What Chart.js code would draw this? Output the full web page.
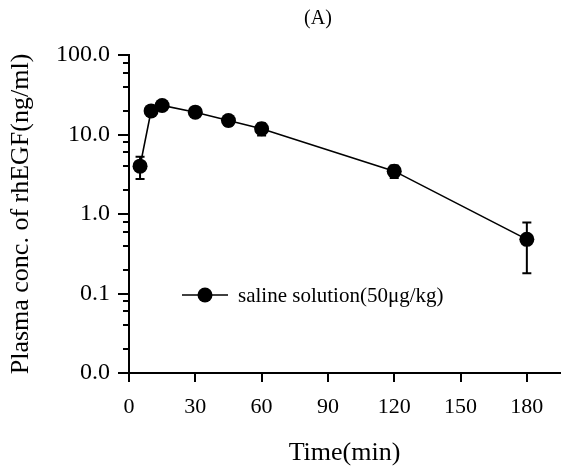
<!DOCTYPE html>
<html>
<head>
<meta charset="utf-8">
<script src="https://cdn.jsdelivr.net/npm/chart.js@4"></script>
<style>
  body { margin: 0; background: #fff; }
  #wrap { width: 568px; height: 469px; }
</style>
</head>
<body>
<div id="wrap"><canvas id="pkChart" width="568" height="469"></canvas></div>
<script>
// values
const times = [5, 10, 15, 30, 45, 60, 120, 180];
const conc = [4.0, 19.8, 23.2, 19.1, 15.0, 11.8, 3.46, 0.48];
const concErr = [1.24, 2.0, 2.5, 2.0, 2.0, 2.1, 0.62, 0.30];
const xTicks = [0, 30, 60, 90, 120, 150, 180];
const yMajorTicks = [0.01, 0.1, 1, 10, 100];
const yMinorSteps = [2, 4, 6, 8];
const seriesLabel = 'saline solution(50\u03bcg/kg)';

const FONT = "'Liberation Serif', 'Times New Roman', serif";

// minor ticks: 2,4,6,8 x each decade
const yTicks = [];
yMajorTicks.forEach((d, i) => {
  yTicks.push({ value: d, major: true });
  if (i < yMajorTicks.length - 1) {
    yMinorSteps.forEach(m => yTicks.push({ value: +(d * m).toPrecision(3), major: false }));
  }
});

// error bars behind the markers
const errorBars = {
  id: 'errorBars',
  beforeDatasetsDraw(chart) {
    const { ctx, scales: { x, y } } = chart;
    ctx.save();
    ctx.strokeStyle = '#000';
    ctx.lineWidth = 2;
    times.forEach((t, i) => {
      const px = x.getPixelForValue(t);
      const top = y.getPixelForValue(conc[i] + concErr[i]);
      const bot = y.getPixelForValue(Math.max(conc[i] - concErr[i], 0.011));
      ctx.beginPath();
      ctx.moveTo(px, top); ctx.lineTo(px, bot);
      ctx.moveTo(px - 4.5, top); ctx.lineTo(px + 4.5, top);
      ctx.moveTo(px - 4.5, bot); ctx.lineTo(px + 4.5, bot);
      ctx.stroke();
    });
    ctx.restore();
  }
};

// outward tick marks, long for decades and short for minors
const axisTicks = {
  id: 'axisTicks',
  afterDraw(chart) {
    const { ctx, chartArea, scales: { x, y } } = chart;
    ctx.save();
    ctx.strokeStyle = '#000';
    ctx.lineWidth = 2;
    y.ticks.forEach(t => {
      const py = Math.round(y.getPixelForValue(t.value));
      const len = yMajorTicks.includes(t.value) ? 11 : 6;
      ctx.beginPath();
      ctx.moveTo(chartArea.left, py);
      ctx.lineTo(chartArea.left - len, py);
      ctx.stroke();
    });
    x.ticks.forEach(t => {
      const px = Math.round(x.getPixelForValue(t.value));
      ctx.beginPath();
      ctx.moveTo(px, chartArea.bottom);
      ctx.lineTo(px, chartArea.bottom + 9);
      ctx.stroke();
    });

    // panel label
    ctx.fillStyle = '#000';
    ctx.font = '20px ' + FONT;
    ctx.textAlign = 'center';
    ctx.textBaseline = 'middle';
    ctx.fillText('(A)', 318, 19);

    // legend inside the plot
    const lx = chartArea.left + 53, ly = 295;
    ctx.lineWidth = 1.5;
    ctx.beginPath();
    ctx.moveTo(lx, ly); ctx.lineTo(lx + 46, ly);
    ctx.stroke();
    ctx.beginPath();
    ctx.arc(lx + 23, ly, 7.5, 0, Math.PI * 2);
    ctx.fill();
    ctx.font = '21px ' + FONT;
    ctx.textAlign = 'left';
    ctx.fillText(chart.data.datasets[0].label, lx + 56, ly + 1);
    ctx.restore();
  }
};

new Chart(document.getElementById('pkChart'), {
  type: 'line',
  data: {
    datasets: [{
      label: seriesLabel,
      data: times.map((t, i) => ({ x: t, y: conc[i] })),
      borderColor: '#000',
      borderWidth: 1.6,
      backgroundColor: '#000',
      pointBackgroundColor: '#000',
      pointBorderColor: '#000',
      pointRadius: 7.5,
      pointBorderWidth: 0,
      tension: 0,
      clip: false
    }]
  },
  options: {
    responsive: false,
    animation: false,
    devicePixelRatio: 1,
    layout: { padding: { left: 0, top: 55, right: 8, bottom: 0 } },
    plugins: {
      legend: { display: false },
      tooltip: { enabled: false },
      title: { display: false }
    },
    scales: {
      x: {
        type: 'linear',
        min: 0,
        max: 195,
        afterBuildTicks: s => { s.ticks = xTicks.map(v => ({ value: v })); },
        afterFit: s => { s.height = 96; },
        grid: { display: false, drawTicks: false },
        border: { display: true, color: '#000', width: 2 },
        ticks: {
          color: '#000',
          font: { family: FONT, size: 22 },
          padding: 21,
          maxRotation: 0,
          autoSkip: false
        },
        title: {
          display: true,
          text: 'Time(min)',
          color: '#000',
          font: { family: FONT, size: 26 },
          padding: { top: 0, bottom: 0 }
        }
      },
      y: {
        type: 'logarithmic',
        min: 0.01,
        max: 100,
        afterBuildTicks: s => { s.ticks = yTicks.map(t => ({ value: t.value, major: t.major })); },
        afterFit: s => { s.width = 129; },
        grid: { display: false, drawTicks: false },
        border: { display: true, color: '#000', width: 2 },
        ticks: {
          color: '#000',
          font: { family: FONT, size: 24 },
          padding: 19,
          autoSkip: false,
          callback: v => yMajorTicks.includes(v) ? v.toFixed(1) : ''
        },
        title: {
          display: true,
          text: 'Plasma conc. of rhEGF(ng/ml)',
          color: '#000',
          font: { family: FONT, size: 26 },
          padding: { top: 6, bottom: 0 }
        }
      }
    }
  },
  plugins: [errorBars, axisTicks]
});
</script>
</body>
</html>
